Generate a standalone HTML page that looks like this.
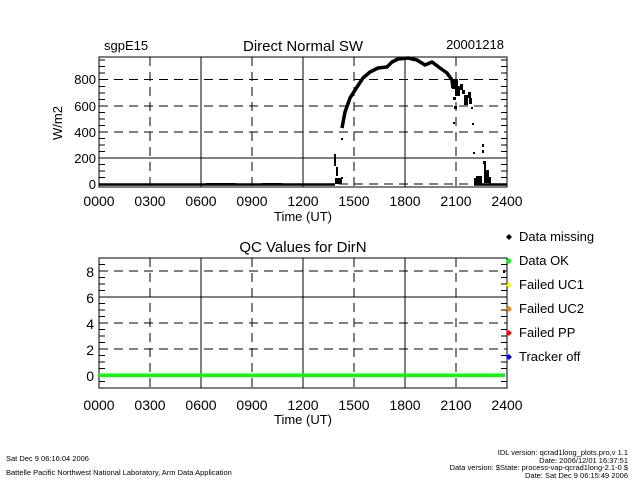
<!DOCTYPE html>
<html><head><style>
body{margin:0;background:#fff;}
svg{display:block;font-family:"Liberation Sans",sans-serif;}
</style></head><body>
<svg width="640" height="480" viewBox="0 0 640 480" xmlns="http://www.w3.org/2000/svg">
<!-- Top plot -->
<g stroke="#000" stroke-width="1" fill="none">
<rect x="99" y="57" width="408" height="130"/>
<line x1="201" y1="57" x2="201" y2="187"/>
<line x1="303" y1="57" x2="303" y2="187"/>
<line x1="405" y1="57" x2="405" y2="187"/>
<line x1="99" y1="158" x2="507" y2="158"/>
<g stroke-dasharray="9,6">
<line x1="150" y1="57" x2="150" y2="187"/>
<line x1="252" y1="57" x2="252" y2="187"/>
<line x1="354" y1="57" x2="354" y2="187"/>
<line x1="456" y1="57" x2="456" y2="187"/>
<line x1="99" y1="79.5" x2="507" y2="79.5"/>
<line x1="99" y1="106" x2="507" y2="106"/>
<line x1="99" y1="132" x2="507" y2="132"/>
<line x1="99" y1="184" x2="507" y2="184"/>
</g>
<path d="M99 177.5h6M99 171h6M99 164.5h6M99 151.5h6M99 145h6M99 138.5h6M99 125.5h6M99 119h6M99 112.5h6M99 99.5h6M99 93h6M99 86.5h6M99 73h6M99 66.5h6M99 60h6M507 177.5h-6M507 171h-6M507 164.5h-6M507 151.5h-6M507 145h-6M507 138.5h-6M507 125.5h-6M507 119h-6M507 112.5h-6M507 99.5h-6M507 93h-6M507 86.5h-6M507 73h-6M507 66.5h-6M507 60h-6"/>
</g>
<g fill="none" stroke="#000" stroke-width="2.5">
<polyline points="99,184.5 335,184.5"/>
<polyline points="474,184.5 507,184.5"/>
</g>
<g fill="none" stroke="#000" stroke-width="3.5" stroke-linejoin="round">
<polyline points="342,128 345,112 350,98 357,87 363,78 370,72 378,68 387,67 392,62 398,59 408,58 417,60 425,65 432,62 440,68 447,73 452,80 453,88"/>
</g>
<g fill="#000">
<rect x="334" y="154" width="2" height="12"/><rect x="336" y="167" width="2" height="9"/><rect x="338" y="178" width="4" height="6"/><rect x="335" y="178" width="3" height="6"/>
<rect x="341" y="138" width="2" height="2"/><rect x="341" y="177" width="2" height="2"/>
<rect x="452" y="79" width="6" height="10"/><rect x="455" y="86" width="5" height="10"/><rect x="460" y="84" width="3" height="6"/>
<rect x="462" y="90" width="3" height="4"/><rect x="464" y="95" width="4" height="10"/><rect x="468" y="92" width="3" height="6"/><rect x="469" y="98" width="3" height="6"/>
<rect x="453" y="97" width="3" height="3"/><rect x="454" y="106" width="3" height="3"/><rect x="453" y="122" width="2" height="2"/>
<rect x="471" y="107" width="2" height="2"/><rect x="472" y="123" width="2" height="2"/><rect x="473" y="152" width="2" height="2"/>
<rect x="482" y="144" width="2" height="3"/><rect x="482" y="150" width="2" height="3"/><rect x="483" y="161" width="3" height="3"/>
<rect x="476" y="176" width="6" height="8"/><rect x="474" y="178" width="3" height="6"/><rect x="484" y="163" width="2" height="20"/><rect x="486" y="170" width="3" height="13"/><rect x="489" y="177" width="2" height="7"/>
<rect x="206" y="183" width="30" height="1.5"/><rect x="262" y="183" width="20" height="1.5"/>
</g>
<g font-size="13" fill="#000">
<text x="104" y="50">sgpE15</text>
<text x="303" y="51" text-anchor="middle" font-size="15">Direct Normal SW</text>
<text x="475" y="49" text-anchor="middle">20001218</text>
<g text-anchor="end"><text x="96" y="189">0</text><text x="96" y="163">200</text><text x="96" y="137">400</text><text x="96" y="111">600</text><text x="96" y="84">800</text></g>
<text x="62" y="123" transform="rotate(-90 62 123)" text-anchor="middle">W/m2</text>
<g text-anchor="middle" font-size="14"><text x="99" y="206">0000</text><text x="150" y="206">0300</text><text x="201" y="206">0600</text><text x="252" y="206">0900</text><text x="303" y="206">1200</text><text x="354" y="206">1500</text><text x="405" y="206">1800</text><text x="456" y="206">2100</text><text x="507" y="206">2400</text></g>
<text x="303" y="221" text-anchor="middle">Time (UT)</text>
</g>
<!-- Bottom plot -->
<g stroke="#000" stroke-width="1" fill="none">
<rect x="99" y="258" width="408" height="130"/>
<line x1="201" y1="258" x2="201" y2="388"/>
<line x1="303" y1="258" x2="303" y2="388"/>
<line x1="405" y1="258" x2="405" y2="388"/>
<line x1="99" y1="297" x2="507" y2="297"/>
<g stroke-dasharray="9,6">
<line x1="150" y1="258" x2="150" y2="388"/>
<line x1="252" y1="258" x2="252" y2="388"/>
<line x1="354" y1="258" x2="354" y2="388"/>
<line x1="456" y1="258" x2="456" y2="388"/>
<line x1="99" y1="271" x2="507" y2="271"/>
<line x1="99" y1="323" x2="507" y2="323"/>
<line x1="99" y1="349" x2="507" y2="349"/>
</g>
<path d="M99 381.5h6M99 368.5h6M99 362h6M99 355.5h6M99 342.5h6M99 336h6M99 329.5h6M99 316.5h6M99 310h6M99 303.5h6M99 290.5h6M99 284h6M99 277.5h6M99 264.5h6M507 381.5h-6M507 368.5h-6M507 362h-6M507 355.5h-6M507 342.5h-6M507 336h-6M507 329.5h-6M507 316.5h-6M507 310h-6M507 303.5h-6M507 290.5h-6M507 284h-6M507 277.5h-6M507 264.5h-6"/>
</g>
<rect x="99" y="373.5" width="406" height="3.5" fill="#00ff00"/>
<rect x="503" y="270" width="2" height="3" fill="#000"/>
<g font-size="13" fill="#000">
<text x="303" y="252" text-anchor="middle" font-size="15">QC Values for DirN</text>
<g text-anchor="end" font-size="14"><text x="94" y="381">0</text><text x="94" y="355">2</text><text x="94" y="329">4</text><text x="94" y="303">6</text><text x="94" y="277">8</text></g>
<g text-anchor="middle" font-size="14"><text x="99" y="410">0000</text><text x="150" y="410">0300</text><text x="201" y="410">0600</text><text x="252" y="410">0900</text><text x="303" y="410">1200</text><text x="354" y="410">1500</text><text x="405" y="410">1800</text><text x="456" y="410">2100</text><text x="507" y="410">2400</text></g>
<text x="303" y="424" text-anchor="middle">Time (UT)</text>
</g>
<!-- Legend -->
<g font-size="13" fill="#000">
<text x="519" y="241">Data missing</text>
<text x="519" y="265">Data OK</text>
<text x="519" y="289">Failed UC1</text>
<text x="519" y="313">Failed UC2</text>
<text x="519" y="337">Failed PP</text>
<text x="519" y="361">Tracker off</text>
</g>
<g>
<path d="M509 234l3 3-3 3-3-3z" fill="#000"/>
<path d="M509 258l3 3-3 3-3-3z" fill="#00ff00"/>
<path d="M509 282l3 3-3 3-3-3z" fill="#ffff00"/>
<path d="M509 306l3 3-3 3-3-3z" fill="#ff8000"/>
<path d="M509 330l3 3-3 3-3-3z" fill="#ff0000"/>
<path d="M509 354l3 3-3 3-3-3z" fill="#0000ff"/>
</g>
<!-- Footer -->
<g font-size="7.5" fill="#000">
<text x="6" y="461">Sat Dec  9 06:16:04 2006</text>
<text x="6" y="475">Battelle Pacific Northwest National Laboratory, Arm Data Application</text>
<g text-anchor="end">
<text x="628" y="455">IDL version: qcrad1long_plots.pro,v 1.1</text>
<text x="628" y="463">Date: 2006/12/01 16:37:51</text>
<text x="628" y="470">Data version: $State: process-vap-qcrad1long-2.1-0 $</text>
<text x="628" y="478">Date: Sat Dec  9 06:15:49 2006</text>
</g>
</g>
</svg>
</body></html>
